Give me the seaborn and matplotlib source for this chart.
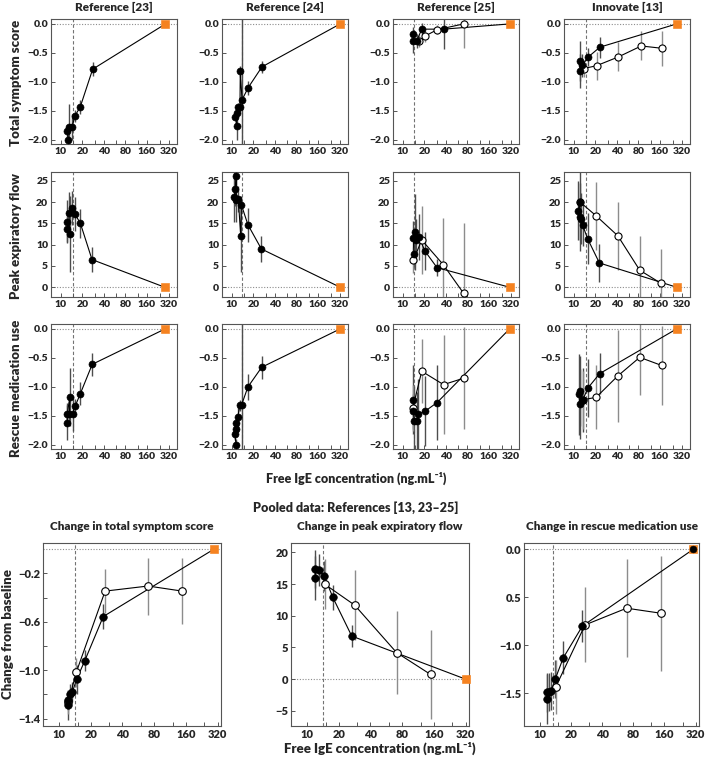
import matplotlib
matplotlib.use("Agg")
import matplotlib.pyplot as plt
import seaborn as sns
from matplotlib.ticker import FixedLocator, FixedFormatter, NullFormatter

# ==========================================
# Data
# ==========================================

# --- Total symptom score ---
tss23_x = [12.7, 12.4, 13.1, 14.4, 15.7, 18.7, 27.9]
tss23_y = [-2.0, -1.85, -1.78, -1.78, -1.59, -1.43, -0.78]
tss23_e = [0.10, 0.10, 0.40, 0.22, 0.10, 0.12, 0.12]

tss24_x = [11.2, 11.7, 11.8, 12.2, 13.0, 13.15, 13.9, 16.9, 26.4]
tss24_y = [-1.61, -1.755, -1.53, -1.44, -1.44, -0.82, -1.31, -1.10, -0.74]
tss24_e = [0.05, 0.25, 0.08, 0.08, 0.08, 0.10, 1.40, 0.12, 0.10]

tss25_x = [14.1, 14.1, 15.7, 18.4, 37.1]
tss25_y = [-0.18, -0.30, -0.29, -0.09, -0.09]
tss25_e = [0.12, 0.20, 0.12, 0.10, 0.35]
tss25_ox = [16.9, 20.4, 30.1, 70.5]
tss25_oy = [-0.29, -0.21, -0.10, 0.0]
tss25_oe = [0.10, 0.10, 0.08, 0.42]

tss13_x = [12.2, 12.3, 13.2, 15.9, 23.2]
tss13_y = [-0.64, -0.81, -0.71, -0.57, -0.40]
tss13_e = [0.35, 0.30, 0.20, 0.16, 0.18]
tss13_ox = [13.7, 20.8, 41.7, 87.5, 171]
tss13_oy = [-0.77, -0.72, -0.57, -0.38, -0.42]
tss13_oe = [0.15, 0.24, 0.25, 0.25, 0.30]

# --- Peak expiratory flow ---
pef23_x = [12.4, 12.4, 13.3, 12.9, 14.2, 15.8, 18.8, 27.3]
pef23_y = [13.6, 15.4, 12.5, 17.4, 18.6, 17.2, 15.0, 6.5]
pef23_e = [3, 5, 9, 5, 4, 4, 3.5, 3]

pef24_x = [10.9, 11.2, 11.6, 11.5, 12.35, 13.3, 13.6, 16.8, 25.9]
pef24_y = [21.3, 23.1, 26.2, 20.4, 20.7, 12.1, 19.4, 14.7, 9.0]
pef24_e = [6, 4, 3, 5, 3, 8.5, 2, 4, 3]

pef25_x = [14.3, 14.1, 14.6, 15.4, 16.9, 20.4, 30.1]
pef25_y = [7.7, 11.5, 13.0, 11.0, 11.8, 8.5, 4.6]
pef25_e = [3, 4, 9, 5, 5.5, 4.5, 2]
pef25_ox = [14.1, 18.4, 36.8, 70.5]
pef25_oy = [6.4, 11.1, 5.3, -1.4]
pef25_oe = [3, 8, 11, 16.5]

pef13_x = [11.6, 12.1, 12.1, 12.6, 13.3, 15.6, 22.8]
pef13_y = [18.0, 20.1, 16.6, 16.1, 14.6, 11.4, 5.7]
pef13_e = [7, 9, 8, 6, 5, 6, 4.5]
pef13_ox = [12.1, 20.5, 41.2, 83.4, 166]
pef13_oy = [20.1, 16.8, 12.1, 4.0, 0.9]
pef13_oe = [0, 8, 8, 8, 8]

# --- Rescue medication use ---
rmu23_x = [12.3, 12.3, 13.4, 13.2, 14.6, 15.9, 18.7, 27.5]
rmu23_y = [-1.62, -1.47, -1.17, -1.46, -1.46, -1.33, -1.12, -0.61]
rmu23_e = [0.3, 0.2, 0.5, 0.2, 0.3, 0.12, 0.2, 0.2]

rmu24_x = [11.5, 11.0, 11.5, 11.6, 12.1, 13.0, 13.7, 16.8, 26.2]
rmu24_y = [-2.0, -1.82, -1.73, -1.62, -1.52, -1.32, -1.31, -1.0, -0.66]
rmu24_e = [0.1, 0.1, 0.1, 0.1, 0.25, 0.1, 2.2, 0.23, 0.2]

rmu25_x = [14.1, 14.1, 14.4, 15.7, 16.5, 20.4, 30.1]
rmu25_y = [-1.22, -1.42, -1.59, -1.59, -1.47, -1.42, -1.27]
rmu25_e = [0.6, 0.3, 0.6, 0.5, 0.6, 0.6, 0.65]
rmu25_ox = [13.8, 18.4, 37.1, 70.5]
rmu25_oy = [-1.36, -0.73, -0.96, -0.85]
rmu25_oe = [0.4, 0.55, 0.85, 0.88]

rmu13_x = [12.1, 11.8, 12.2, 13.3, 15.7, 23.0]
rmu13_y = [-1.29, -1.13, -1.07, -1.23, -1.02, -0.77]
rmu13_e = [0.6, 0.7, 0.6, 0.55, 0.5, 0.35]
rmu13_ox = [13.4, 20.5, 41.2, 83.4, 169]
rmu13_oy = [-1.22, -1.18, -0.81, -0.49, -0.63]
rmu13_oe = [0.5, 0.55, 0.8, 0.65, 0.68]

# end points (orange squares, at y = 0) and threshold lines per column
end23 = [290, 283, 286]
end24 = [326, 326, 326]
end25 = [310, 310, 310]
end13 = [273, 273, 273]
cut_top = [14.6, 13.9, 14.3, 14.7]

# --- Pooled data ---
ptss_x = [12.2, 12.2, 12.6, 13.4, 14.7, 17.6, 26.3]
ptss_y = [-1.29, -1.245, -1.195, -1.18, -1.074, -0.92, -0.557]
ptss_e = [0.12, 0.08, 0.08, 0.08, 0.12, 0.09, 0.10]
ptss_ox = [12.3, 14.6, 27.4, 70, 148]
ptss_oy = [-1.26, -1.016, -0.347, -0.305, -0.347]
ptss_oe = [0.10, 0.12, 0.18, 0.235, 0.27]

ppef_x = [12.0, 12.0, 13.0, 14.6, 17.6, 26.6]
ppef_y = [16.0, 17.45, 17.2, 16.3, 12.9, 6.8]
ppef_e = [3.5, 3, 2.5, 2.4, 2, 1.7]
ppef_ox = [14.7, 28.3, 70.8, 149]
ppef_oy = [15.0, 11.7, 4.2, 0.74]
ppef_oe = [4, 5.5, 6.6, 7]

prmu_x = [11.7, 11.7, 12.3, 12.9, 14.1, 16.9, 25.8]
prmu_y = [-1.561, -1.491, -1.484, -1.474, -1.352, -1.129, -0.80]
prmu_e = [0.26, 0.2, 0.2, 0.2, 0.2, 0.17, 0.17]
prmu_ox = [14.3, 27.4, 69, 149]
prmu_oy = [-1.432, -0.787, -0.613, -0.666]
prmu_oe = [0.28, 0.39, 0.51, 0.6]

pool_end = [297, 320, 303]
pool_cut = [14.2, 14.2, 13.55]

col_titles = ["Reference [23]", "Reference [24]", "Reference [25]", "Innovate [13]"]
row_titles = ["Total symptom score", "Peak expiratory flow", "Rescue medication use"]
pool_titles = ["Change in total symptom score", "Change in peak expiratory flow",
               "Change in rescue medication use"]
x_ticks = [10, 20, 40, 80, 160, 320]
x_minor = [15, 30, 60, 120, 240]

# ==========================================
# Style
# ==========================================

sns.set_theme(style="white")
plt.rcParams['font.family'] = ['Lato', 'DejaVu Sans']
plt.rcParams['font.weight'] = 'heavy'

ORANGE = '#f58220'
FRAME = '#555555'

W, H = 708, 763
fig = plt.figure(figsize=(W / 100, H / 100), dpi=100)


def add_ax(x, y, w, h):
    return fig.add_axes([x / W, 1 - (y + h) / H, w / W, h / H])


def ftext(x, y, s, **kw):
    fig.text(x / W, 1 - y / H, s, ha='center', va='center', fontweight='heavy', **kw)


def draw_panel(ax, fx, fy, fe, end, cut, ox=None, oy=None, oe=None,
               ms=26, sq=30, end_dot=False):
    ax.set_xscale('log', base=2)
    ax.axhline(0, color='0.55', ls=(0, (1, 1.5)), lw=0.8, zorder=0)
    ax.axvline(cut, color='0.45', ls=(0, (3, 2)), lw=0.8, zorder=0)

    # error bars
    ax.vlines(fx, [a - b for a, b in zip(fy, fe)], [a + b for a, b in zip(fy, fe)],
              color='0.3', lw=1.0, zorder=1)
    if ox is not None:
        ax.vlines(ox, [a - b for a, b in zip(oy, oe)], [a + b for a, b in zip(oy, oe)],
                  color='0.55', lw=1.0, zorder=1)
        sns.lineplot(x=ox, y=oy, sort=False, estimator=None, color='black',
                     lw=0.8, ax=ax, zorder=2)
        sns.scatterplot(x=ox, y=oy, color='white', edgecolor='black', linewidth=0.8,
                        s=ms, ax=ax, zorder=3)

    sns.lineplot(x=fx + [end], y=fy + [0], sort=False, estimator=None, color='black',
                 lw=0.8, ax=ax, zorder=2)
    sns.scatterplot(x=fx, y=fy, color='black', edgecolor='black', s=ms, ax=ax, zorder=4)
    sns.scatterplot(x=[end], y=[0], marker='s', color=ORANGE, edgecolor=ORANGE,
                    s=sq, ax=ax, zorder=5, clip_on=False)
    if end_dot:
        sns.scatterplot(x=[end], y=[0], color='black', edgecolor='black', s=ms * 0.8,
                        ax=ax, zorder=6, clip_on=False)

    ax.xaxis.set_major_locator(FixedLocator(x_ticks))
    ax.xaxis.set_major_formatter(FixedFormatter([str(t) for t in x_ticks]))
    ax.xaxis.set_minor_locator(FixedLocator(x_minor))
    ax.xaxis.set_minor_formatter(NullFormatter())
    ax.tick_params(which='both', direction='in', length=3, width=0.7, color=FRAME,
                   labelsize=7.5, pad=2, bottom=True, left=True)
    for s in ax.spines.values():
        s.set_color(FRAME)
        s.set_linewidth(0.8)
    ax.set_xlabel('')
    ax.set_ylabel('')


def set_y(ax, lim, ticks, labels, minor=None):
    ax.set_ylim(*lim)
    ax.yaxis.set_major_locator(FixedLocator(ticks))
    ax.yaxis.set_major_formatter(FixedFormatter(labels))
    if minor is not None:
        ax.yaxis.set_minor_locator(FixedLocator(minor))
        ax.yaxis.set_minor_formatter(NullFormatter())


# ==========================================
# Top grid: one panel per study
# ==========================================

col_left = [51, 222, 393, 564]
row_top = [19, 172, 324]

top_data = [
    [(tss23_x, tss23_y, tss23_e, None, None, None),
     (tss24_x, tss24_y, tss24_e, None, None, None),
     (tss25_x, tss25_y, tss25_e, tss25_ox, tss25_oy, tss25_oe),
     (tss13_x, tss13_y, tss13_e, tss13_ox, tss13_oy, tss13_oe)],
    [(pef23_x, pef23_y, pef23_e, None, None, None),
     (pef24_x, pef24_y, pef24_e, None, None, None),
     (pef25_x, pef25_y, pef25_e, pef25_ox, pef25_oy, pef25_oe),
     (pef13_x, pef13_y, pef13_e, pef13_ox, pef13_oy, pef13_oe)],
    [(rmu23_x, rmu23_y, rmu23_e, None, None, None),
     (rmu24_x, rmu24_y, rmu24_e, None, None, None),
     (rmu25_x, rmu25_y, rmu25_e, rmu25_ox, rmu25_oy, rmu25_oe),
     (rmu13_x, rmu13_y, rmu13_e, rmu13_ox, rmu13_oy, rmu13_oe)],
]
ends = [end23, end24, end25, end13]

score_ticks = [0.0, -0.5, -1.0, -1.5, -2.0]
score_labels = ['0.0', '\u22120.5', '\u22121.0', '\u22121.5', '\u22122.0']
pef_ticks = [0, 5, 10, 15, 20, 25]

for r in range(3):
    for c in range(4):
        ax = add_ax(col_left[c], row_top[r], 126, 125)
        fx, fy, fe, ox, oy, oe = top_data[r][c]
        draw_panel(ax, fx, fy, fe, ends[c][r], cut_top[c], ox, oy, oe)
        ax.set_xlim(7.3, 420)
        if r == 1:
            set_y(ax, (-2.3, 27.1), pef_ticks, [str(t) for t in pef_ticks])
        else:
            set_y(ax, (-2.07, 0.085), score_ticks, score_labels)

for c in range(4):
    ftext(col_left[c] + 63, 7, col_titles[c], fontsize=8.5)
for r in range(3):
    ftext(16, row_top[r] + 64, row_titles[r], fontsize=9.5, rotation=90)

ftext(356, 478, 'Free IgE concentration (ng.mL\u207b\u00b9)', fontsize=9)
ftext(356, 508, 'Pooled data: References [13, 23\u201325]', fontsize=9)

# ==========================================
# Bottom row: pooled data
# ==========================================

pool_left = [43, 291, 524]
pool_w = [178, 178, 175]

ax1 = add_ax(pool_left[0], 543, pool_w[0], 183)
draw_panel(ax1, ptss_x, ptss_y, ptss_e, pool_end[0], pool_cut[0],
           ptss_ox, ptss_oy, ptss_oe, ms=30, sq=32)
set_y(ax1, (-1.46, 0.05), [-0.2, -0.6, -1.0, -1.4],
      ['\u22120.2', '\u22120.6', '\u22121.0', '\u22121.4'], minor=[-0.4, -0.8, -1.2])

ax2 = add_ax(pool_left[1], 543, pool_w[1], 183)
draw_panel(ax2, ppef_x, ppef_y, ppef_e, pool_end[1], pool_cut[1],
           ppef_ox, ppef_oy, ppef_oe, ms=30, sq=32)
set_y(ax2, (-7.4, 21.5), [20, 15, 10, 5, 0, -5], ['20', '15', '10', '5', '0', '\u22125'])

ax3 = add_ax(pool_left[2], 543, pool_w[2], 183)
draw_panel(ax3, prmu_x, prmu_y, prmu_e, pool_end[2], pool_cut[2],
           prmu_ox, prmu_oy, prmu_oe, ms=30, sq=32, end_dot=True)
set_y(ax3, (-1.84, 0.066), [0.0, -0.5, -1.0, -1.5], ['0.0', '0.5', '\u22121.0', '\u22121.5'])

for ax in (ax1, ax2, ax3):
    ax.set_xlim(7.05, 345)
    ax.tick_params(labelsize=8)

for i in range(3):
    ftext(pool_left[i] + pool_w[i] / 2, 527, pool_titles[i], fontsize=8.5)

ftext(8, 634, 'Change from baseline', fontsize=9.5, rotation=90)
ftext(380, 748, 'Free IgE concentration (ng.mL\u207b\u00b9)', fontsize=9.5)

plt.savefig("out.png", dpi=100)
